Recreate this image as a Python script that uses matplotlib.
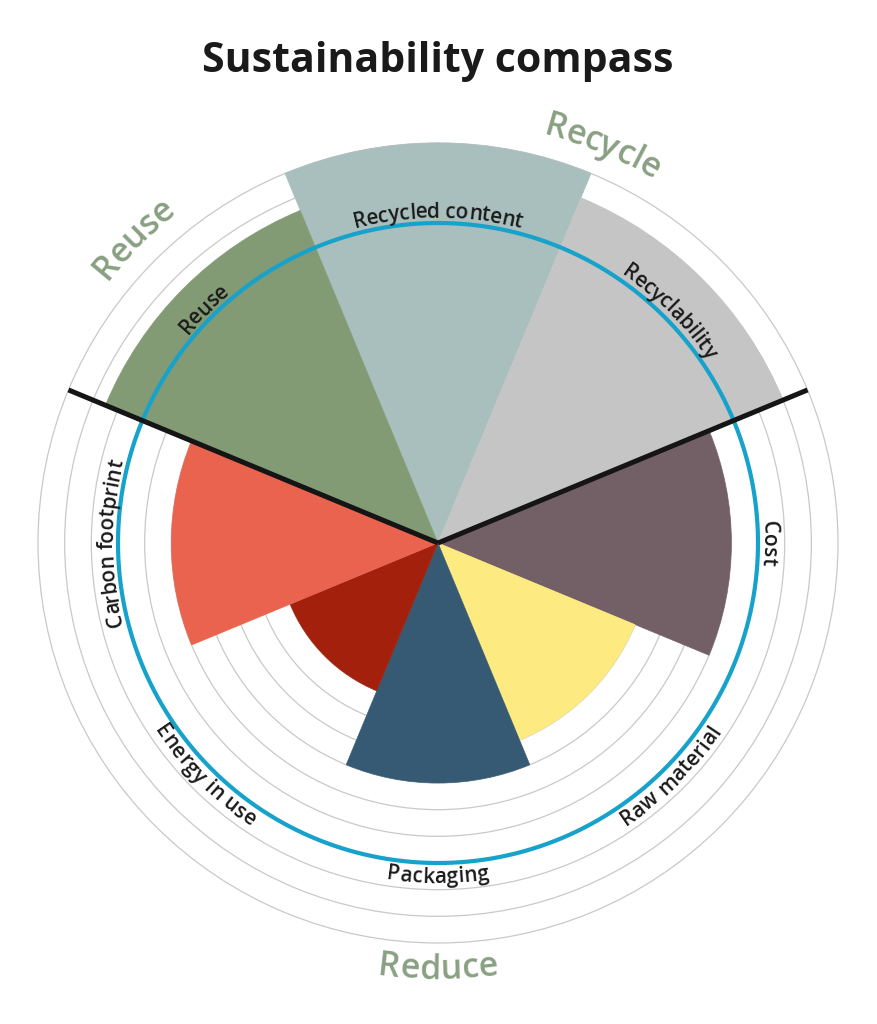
import numpy as np
import matplotlib
matplotlib.use("Agg")
import matplotlib.pyplot as plt
from matplotlib.font_manager import FontProperties, findfont
from matplotlib.ft2font import FT2Font

# sectors, clockwise from the top
categories = ["Recycled content", "Recyclability", "Cost", "Raw material",
              "Packaging", "Energy in use", "Carbon footprint", "Reuse"]
values = [15, 14, 11, 8, 9, 6, 10, 13.5]
colors = ["#A9BFBE", "#C5C5C5", "#735F66", "#FDEA80",
          "#365A73", "#A2200C", "#E9634E", "#829B75"]
target = 12
rings = list(range(6, 16))
groups = ["Recycle", "Reuse", "Reduce"]
group_angles = [22.5, -45, 180]

FIG_W, FIG_H, DPI = 877, 1024, 100
CX, CY = 438, 543
RMAX = 15
px_per_unit = 400 / RMAX
RLIM = 15.1
R_PX = RLIM * px_per_unit

fig = plt.figure(figsize=(FIG_W / DPI, FIG_H / DPI), dpi=DPI)
ax = fig.add_axes([(CX - R_PX) / FIG_W, (FIG_H - CY - R_PX) / FIG_H,
                   2 * R_PX / FIG_W, 2 * R_PX / FIG_H], projection="polar")
ax.set_theta_zero_location("N")
ax.set_theta_direction(-1)

n = len(categories)
step = 2 * np.pi / n
theta = np.arange(n) * step
ax.bar(theta, values, width=step, bottom=0, color=colors, edgecolor=colors,
       linewidth=0.4, zorder=2)

ax.set_ylim(0, RLIM)
ax.set_yticks(rings)
ax.set_yticklabels([])
ax.set_xticks([])
ax.set_axisbelow(True)
ax.yaxis.grid(True, color="#C9C9C9", linewidth=0.9)
ax.spines["polar"].set_visible(False)

# target circle
tt = np.linspace(0, 2 * np.pi, 500)
ax.plot(tt, np.full_like(tt, target), color="#17A2CB", linewidth=3, zorder=4)

# divider between recycle and the rest
for a in [-67.5, 67.5]:
    ax.plot([0, np.deg2rad(a)], [0, RMAX], color="#151515", linewidth=3.6,
            zorder=5, solid_capstyle="butt")


def curved_text(label, angle, r_base, size, color, weight="normal", top=True):
    prop = FontProperties(family="Open Sans", weight=weight, size=size)
    font = FT2Font(findfont(prop))
    font.set_size(size, DPI)
    adv = [font.load_char(ord(c)).linearHoriAdvance / 65536 for c in label]
    total = sum(adv)
    r_mid = (r_base + (0.3 if top else -0.3)) * px_per_unit
    s = 0
    for c, w in zip(label, adv):
        off = np.rad2deg((s + w / 2 - total / 2) / r_mid)
        s += w
        if c == " ":
            continue
        if top:
            a = angle + off
            rot = -a
        else:
            a = angle - off
            rot = 180 - a
        ax.text(np.deg2rad(a), r_base, c, fontproperties=prop, color=color,
                rotation=rot, rotation_mode="anchor", ha="center",
                va="baseline", zorder=6, clip_on=False)


for i, lab in enumerate(categories):
    ang = i * 45
    top = not (100 < ang < 260)
    curved_text(lab, ang, 12.2 if top else 12.75, 15, "#1A1A1A",
                weight="semibold", top=top)

for lab, ang in zip(groups, group_angles):
    top = not (100 < ang % 360 < 260)
    curved_text(lab, ang, 15.82 if top else 16.35, 24.5, "#89A082",
                weight="semibold", top=top)

fig.text(CX / FIG_W, 1 - 61 / FIG_H, "Sustainability compass", ha="center",
         va="center", fontsize=29.5, fontweight="bold", color="#1A1A1A",
         family="Open Sans")

fig.savefig("out.png", dpi=DPI)
